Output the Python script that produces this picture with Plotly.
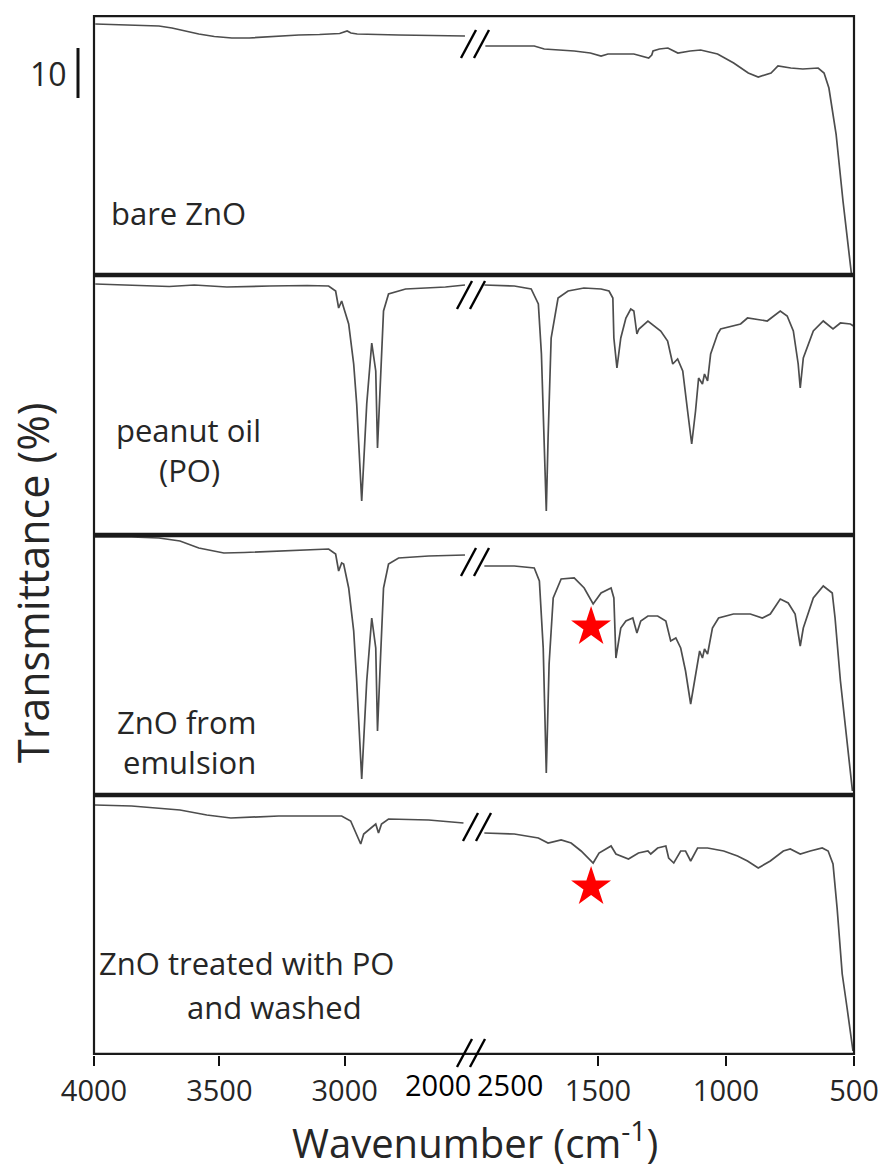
import plotly.graph_objects as go
from plotly.subplots import make_subplots

# ---------------- data (wavenumber in cm-1, transmittance offset in %) ----------------
panel_labels = [["bare ZnO"], ["peanut oil", "(PO)"], ["ZnO from", "emulsion"],
                ["ZnO treated with PO", "and washed"]]

left_ticks = [4000, 3500, 3000]
left_ticktext = ["4000", "3500", "3000"]
right_ticks = [1500, 1000, 500]
right_ticktext = ["1500", "1000", "500"]
break_labels = ["2000", "2500"]

# bare ZnO
bare_left_wn = [3995, 3900, 3741, 3689, 3640, 3582, 3520, 3450, 3380, 3315, 3250, 3183, 3100, 3020,
                2990, 2975, 2950, 2900, 2785, 2650, 2520]
bare_left_T = [50.2, 50.1, 49.8, 49.4, 48.8, 48.2, 47.7, 47.4, 47.4, 47.6, 47.8, 48.0, 48.1, 48.3,
               48.8, 48.4, 48.2, 48.1, 48.0, 47.9, 47.8]
bare_right_wn = [1940, 1850, 1749, 1710, 1650, 1593, 1530, 1488, 1461, 1410, 1360, 1302, 1290, 1285,
                 1260, 1227, 1188, 1140, 1099, 1033, 970, 913, 874, 824, 797, 747, 700, 640, 617,
                 598, 570, 543, 510]
bare_right_T = [45.8, 45.8, 45.8, 45.2, 45.0, 44.8, 44.4, 43.8, 44.2, 44.2, 44.2, 43.4, 44.0, 44.8,
                45.2, 45.4, 44.4, 44.8, 45.0, 44.2, 42.4, 40.4, 39.6, 40.4, 41.8, 41.4, 41.2, 41.4,
                40.4, 37.4, 28.2, 14.8, 0.2]

# peanut oil
po_left_wn = [3995, 3850, 3700, 3600, 3470, 3300, 3150, 3064, 3036, 3024, 3012, 2998, 2984, 2964,
              2952, 2932, 2912, 2892, 2876, 2869, 2857, 2845, 2825, 2757, 2598, 2520]
po_left_T = [50.2, 50.0, 49.7, 50.0, 49.6, 49.8, 49.9, 49.8, 48.8, 45.4, 46.8, 44.5, 42.2, 34.2,
             26.2, 6.8, 26.2, 38.4, 32.8, 17.4, 32.8, 44.8, 48.2, 49.2, 49.6, 50.0]
po_right_wn = [1944, 1827, 1761, 1733, 1721, 1710, 1702, 1695, 1683, 1656,
               1617, 1555, 1488, 1457, 1442, 1438, 1426, 1411, 1391, 1372,
               1360, 1348, 1340, 1305, 1255, 1228, 1208, 1189, 1169, 1150,
               1134, 1119, 1107, 1092, 1084, 1072, 1060, 1033, 1021, 943,
               916, 839, 788, 761, 737, 718, 710, 698, 659, 620,
               582, 553, 514, 502]
po_right_T = [50.0, 49.8, 49.2, 46.2, 36.2, 19.4, 4.8, 19.4, 39.4, 47.4,
              48.8, 49.4, 49.2, 48.8, 47.4, 39.4, 33.4, 39.4, 43.4, 45.2,
              44.8, 40.2, 41.2, 42.8, 40.8, 38.8, 34.2, 35.2, 32.8, 24.8,
              18.2, 24.8, 31.4, 30.2, 32.2, 30.8, 36.2, 40.2, 41.2, 42.2,
              43.4, 42.8, 44.8, 43.8, 40.8, 34.2, 29.4, 35.4, 40.8, 42.8,
              41.2, 42.4, 42.2, 41.8]

# ZnO from emulsion
em_left_wn = [3996, 3850, 3741, 3657, 3582, 3482, 3400, 3263, 3150, 3064, 3036, 3024, 3012, 3004,
              2984, 2964, 2952, 2932, 2912, 2892, 2876, 2869, 2857, 2845, 2825, 2785, 2665, 2520]
em_left_T = [51.6, 51.6, 51.4, 50.8, 49.4, 48.4, 48.5, 48.8, 49.0, 49.2, 48.2, 44.8, 46.4, 46.2,
             41.4, 32.8, 22.8, 3.2, 22.8, 35.4, 29.4, 12.8, 27.4, 41.4, 46.2, 47.4, 47.8, 48.0]
em_right_wn = [1944, 1827, 1749, 1729, 1714, 1702, 1691, 1675, 1644,
               1593, 1554, 1519, 1488, 1449, 1438, 1430, 1411, 1391, 1364,
               1348, 1333, 1305, 1267, 1235, 1216, 1196, 1177, 1158, 1138,
               1119, 1103, 1092, 1084, 1072, 1053, 1029, 971, 905, 858,
               827, 788, 757, 730, 710, 698, 659, 620, 585, 574,
               553, 525, 506]
em_right_T = [45.8, 45.8, 45.4, 42.8, 29.4, 4.4, 26.2, 39.4, 43.2,
              43.4, 41.4, 38.2, 40.4, 41.4, 39.4, 27.4, 33.4, 34.8, 35.4,
              32.4, 34.8, 35.8, 35.8, 34.8, 30.8, 31.4, 29.4, 24.8, 18.2,
              24.2, 28.8, 27.4, 29.2, 28.2, 33.4, 35.4, 36.2, 36.2, 35.4,
              36.2, 39.2, 38.4, 36.2, 29.8, 33.4, 39.4, 41.8, 40.4, 35.4,
              22.8, 9.4, 0.8]

# ZnO treated with PO and washed
wa_left_wn = [3996, 3850, 3657, 3550, 3454, 3263, 3100, 3012, 2976, 2952, 2936, 2924, 2896, 2876,
              2865, 2853, 2825, 2665, 2526]
wa_left_T = [50.0, 49.8, 49.0, 48.0, 47.4, 47.8, 47.8, 47.8, 46.8, 44.2, 42.2, 44.2, 45.4, 46.2,
             44.4, 46.2, 47.2, 47.0, 46.4]
wa_right_wn = [1944, 1827, 1733, 1695, 1644, 1605, 1566, 1519, 1496, 1449,
               1430, 1381, 1342, 1305, 1294, 1267, 1235, 1224, 1204, 1177,
               1158, 1138, 1111, 1072, 1009, 955, 916, 874, 827, 776,
               749, 710, 671, 624, 601, 582, 566, 546, 527, 504]
wa_right_T = [44.4, 44.2, 43.4, 42.4, 43.0, 42.4, 40.8, 38.4, 40.4, 41.8,
              40.2, 39.2, 40.4, 40.8, 40.2, 41.4, 41.8, 39.4, 38.4, 40.8,
              40.8, 38.8, 41.4, 41.4, 40.8, 39.8, 38.8, 37.4, 38.8, 40.8,
              41.2, 40.2, 40.8, 41.4, 40.8, 38.2, 29.4, 16.2, 9.4, 0.8]

star_wn = 1527
star_T = 33.6
scale_bar_T = [35.4, 45.4]   # 10 % transmittance
scale_bar_label = "10"

panels = [
    (bare_left_wn, bare_left_T, bare_right_wn, bare_right_T, False),
    (po_left_wn, po_left_T, po_right_wn, po_right_T, False),
    (em_left_wn, em_left_T, em_right_wn, em_right_T, True),
    (wa_left_wn, wa_left_T, wa_right_wn, wa_right_T, True),
]

# ---------------- layout geometry ----------------
W, H = 882, 1169
ML, MR, MT, MB = 94, 28, 15, 114
PW, PH = W - ML - MR, H - MT - MB
split = (470 - ML) / PW


def px(xp):
    return (xp - ML) / PW


def py(yp):
    return (H - MB - yp) / PH


FONT = "Open Sans"
TXT = "#262626"
LINE = "#4d4d4d"

fig = make_subplots(rows=4, cols=2, horizontal_spacing=0, vertical_spacing=0,
                    column_widths=[split, 1 - split])

for r, (lw, lt, rw, rt, star) in enumerate(panels, start=1):
    fig.add_trace(go.Scatter(x=lw, y=lt, mode="lines", line=dict(color=LINE, width=1.7),
                             showlegend=False, hoverinfo="skip"), row=r, col=1)
    fig.add_trace(go.Scatter(x=rw, y=rt, mode="lines", line=dict(color=LINE, width=1.7),
                             showlegend=False, hoverinfo="skip"), row=r, col=2)
    if star:
        fig.add_trace(go.Scatter(x=[star_wn], y=[star_T], mode="markers",
                                 marker=dict(symbol="star", size=30, color="#ff0000",
                                             line=dict(width=0)),
                                 showlegend=False, hoverinfo="skip"), row=r, col=2)

tickfont = dict(family=FONT, size=29, color=TXT)
for r in range(1, 5):
    bottom = (r == 4)
    fig.update_xaxes(range=[4000, 2500], row=r, col=1, showgrid=False, zeroline=False,
                     showline=False, tickvals=left_ticks, ticktext=left_ticktext,
                     showticklabels=bottom, ticks="outside" if bottom else "",
                     ticklen=10, tickwidth=2, tickcolor="#111", tickfont=tickfont,
                     automargin=False)
    fig.update_xaxes(range=[2000, 500], row=r, col=2, showgrid=False, zeroline=False,
                     showline=False, tickvals=right_ticks, ticktext=right_ticktext,
                     showticklabels=bottom, ticks="outside" if bottom else "",
                     ticklen=10, tickwidth=2, tickcolor="#111", tickfont=tickfont,
                     automargin=False)
    for c in (1, 2):
        fig.update_yaxes(range=[0, 52], row=r, col=c, visible=False, automargin=False)

shapes = []
# panel frames
for r in range(4):
    top = 1 - r * 0.25
    bot = 1 - (r + 1) * 0.25
    shapes.append(dict(type="rect", xref="paper", yref="paper", x0=0, x1=1,
                       y0=bot + 1.2 / PH, y1=top - 1.2 / PH,
                       line=dict(color="#1a1a1a", width=2.2), layer="above"))

# break marks "//"
for cx, cy in [(475, 44), (471, 295), (475, 562), (477, 827), (471, 1053)]:
    for k in (-1, 1):
        shapes.append(dict(type="line", xref="paper", yref="paper",
                           x0=px(cx + k * 6.5 - 7.5), y0=py(cy + 14),
                           x1=px(cx + k * 6.5 + 7.5), y1=py(cy - 14),
                           line=dict(color="#000", width=2.4), layer="above"))

# 10 % scale bar
shapes.append(dict(type="line", xref="paper", yref="y", x0=px(78), x1=px(78),
                   y0=scale_bar_T[0], y1=scale_bar_T[1],
                   line=dict(color="#111", width=3)))

annotations = []
label_pos = [[(178, 213)], [(188, 430), (189, 470)], [(186, 722), (189, 762)],
             [(246, 963), (274, 1007)]]
for lines, poss in zip(panel_labels, label_pos):
    for t, (xx, yy) in zip(lines, poss):
        annotations.append(dict(text=t, x=px(xx), y=py(yy), xref="paper", yref="paper",
                                showarrow=False, xanchor="center", yanchor="middle",
                                font=dict(family=FONT, size=31, color=TXT)))

annotations.append(dict(text=scale_bar_label, x=px(69), y=(scale_bar_T[0] + scale_bar_T[1]) / 2,
                        xref="paper", yref="y", showarrow=False, xanchor="right",
                        yanchor="middle", font=dict(family=FONT, size=32, color=TXT)))

for t, xx in zip(break_labels, (438, 510)):
    annotations.append(dict(text=t, x=px(xx), y=py(1084), xref="paper", yref="paper",
                            showarrow=False, xanchor="center", yanchor="middle",
                            font=dict(family=FONT, size=29, color="#000")))

annotations.append(dict(text="Wavenumber (cm<sup>-1</sup>)", x=px(475), y=py(1140),
                        xref="paper", yref="paper", showarrow=False, xanchor="center",
                        yanchor="middle", font=dict(family=FONT, size=40, color=TXT)))
annotations.append(dict(text="Transmittance (%)", x=px(32), y=py(583), xref="paper",
                        yref="paper", showarrow=False, textangle=-90, xanchor="center",
                        yanchor="middle", font=dict(family=FONT, size=43, color=TXT)))

fig.update_layout(width=W, height=H, margin=dict(l=ML, r=MR, t=MT, b=MB, autoexpand=False),
                  paper_bgcolor="white", plot_bgcolor="white",
                  shapes=shapes, annotations=annotations, showlegend=False)

fig.write_html("out.html")
